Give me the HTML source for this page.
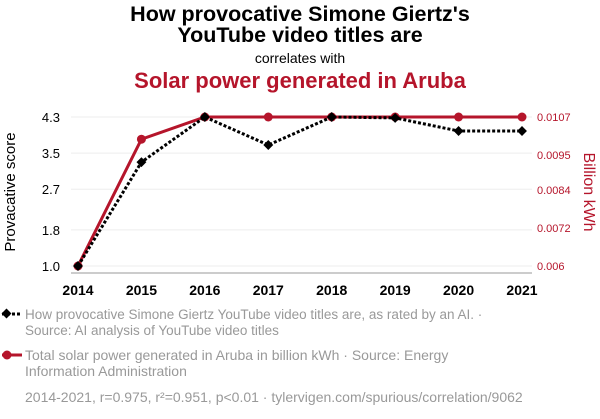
<!DOCTYPE html>
<html><head><meta charset="utf-8"><style>
body{margin:0;background:#fff;font-family:"Liberation Sans",sans-serif;}
svg text{font-family:"Liberation Sans",sans-serif;}
</style></head><body>
<svg width="600" height="414" viewBox="0 0 600 414">
<text x="300" y="21" text-anchor="middle" font-size="21.5" font-weight="bold">How provocative Simone Giertz's</text>
<text x="300" y="42" text-anchor="middle" font-size="21.5" font-weight="bold">YouTube video titles are</text>
<text x="300" y="63" text-anchor="middle" font-size="14">correlates with</text>
<text x="300" y="88" text-anchor="middle" font-size="22" font-weight="bold" fill="#b5152b">Solar power generated in Aruba</text>
<g id="grid"></g>
<line x1="71" y1="273" x2="532" y2="273" stroke="#999"/>
<text transform="translate(15,192) rotate(-90)" text-anchor="middle" font-size="15">Provacative score</text>
<text transform="translate(584,192) rotate(90)" text-anchor="middle" font-size="16" fill="#b5152b">Billion kWh</text>
<g id="ticks"></g>
<g id="series"></g>
<g>
<line x1="2" y1="314" x2="22" y2="314" stroke="#000" stroke-width="3" stroke-dasharray="3,2"/>
<rect x="3" y="310" width="7" height="7" transform="rotate(45 6.5 313.5)" fill="#000"/>
<text x="25" y="319" font-size="13.5" fill="#999">How provocative Simone Giertz YouTube video titles are, as rated by an AI. ·</text>
<text x="25" y="335" font-size="13.5" fill="#999">Source: AI analysis of YouTube video titles</text>
</g>
<g>
<line x1="2" y1="355" x2="22" y2="355" stroke="#b5152b" stroke-width="3"/>
<circle cx="7" cy="355" r="4.5" fill="#b5152b"/>
<text x="25" y="360" font-size="14" fill="#999">Total solar power generated in Aruba in billion kWh · Source: Energy</text>
<text x="25" y="376" font-size="14" fill="#999">Information Administration</text>
</g>
<text x="25" y="402" font-size="14" fill="#999">2014-2021, r=0.975, r²=0.951, p&lt;0.01 · tylervigen.com/spurious/correlation/9062</text>
</svg>
<script>
const years=[2014,2015,2016,2017,2018,2019,2020,2021];
const scores=[1.0,3.3,4.3,3.68,4.3,4.28,3.99,3.99];
const solar=[0.006,0.0100,0.0107,0.0107,0.0107,0.0107,0.0107,0.0107];
const leftTicks=[1.0,1.8,2.7,3.5,4.3];
const rightTicks=[0.006,0.0072,0.0084,0.0095,0.0107];
const NS="http://www.w3.org/2000/svg";
const x=i=>78+(522-78)*(years[i]-2014)/7;
const yl=v=>266-(v-1.0)/(4.3-1.0)*149;
const yr=v=>266-(v-0.006)/(0.0107-0.006)*149;
function mk(t,a,p){const e=document.createElementNS(NS,t);for(const k in a)e.setAttribute(k,a[k]);p.appendChild(e);return e;}
const grid=document.getElementById('grid'),ticks=document.getElementById('ticks'),ser=document.getElementById('series');
leftTicks.forEach(v=>{
 const g=mk('line',{x1:71,x2:532,y1:yl(v),y2:yl(v),stroke:'#eee'},grid);
 
 
 const t=mk('text',{x:60,y:yl(v)+5,'text-anchor':'end','font-size':13},ticks);t.textContent=v.toFixed(1);
 
 
});
rightTicks.forEach(v=>{
 const t=mk('text',{x:537,y:yr(v)+4,'font-size':11,fill:'#b5152b'},ticks);t.textContent=String(v);
 
 
});
years.forEach((yy,i)=>{
 const t=mk('text',{x:x(i),y:295,'text-anchor':'middle','font-size':14,'font-weight':'bold'},ticks);t.textContent=yy;
 
 
});
const rl=mk('polyline',{points:solar.map((v,i)=>x(i)+','+yr(v)).join(' '),fill:'none',stroke:'#b5152b','stroke-width':3},ser);


solar.forEach((v,i)=>{const c=mk('circle',{cx:x(i),cy:yr(v),r:4.5,fill:'#b5152b'},ser);
 
 });
const bl=mk('polyline',{points:scores.map((v,i)=>x(i)+','+yl(v)).join(' '),fill:'none',stroke:'#000','stroke-width':3,'stroke-dasharray':'3,2'},ser);


scores.forEach((v,i)=>{const r=mk('rect',{x:x(i)-3.5,y:yl(v)-3.5,width:7,height:7,fill:'#000',transform:`rotate(45 ${x(i)} ${yl(v)})`},ser);
 
 });
</script>
</body></html>
